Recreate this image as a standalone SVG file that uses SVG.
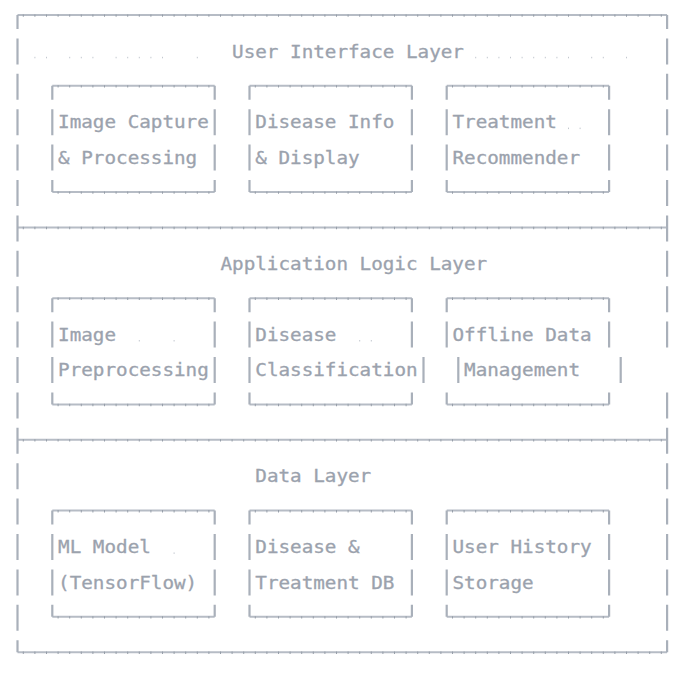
<svg xmlns="http://www.w3.org/2000/svg" width="678" height="674" viewBox="0 0 678 674">
<style>
.bg{fill:#ffffff}
.h{fill:none;stroke:#b6bcc5;stroke-width:2}
.v{fill:none;stroke:#a9b0ba;stroke-width:2.2}
.tk{fill:none;stroke:#969ea9;stroke-width:2.4;stroke-dasharray:1 10.6}
.tx{font-family:"DejaVu Sans Mono","Liberation Mono",monospace;font-size:17.5px;fill:#9ba2ad;stroke:#9ba2ad;stroke-width:0.3}
.dt{fill:#c3c8cf}
</style>
<rect class="bg" x="0" y="0" width="678" height="674"/>

<g id="layer-ui">
<path class="h" d="M17.5 15H667.1"/>
<path class="tk" d="M22.8 15.6H662"/>
<path class="v" d="M17.5 15V29M667.1 15V29M17.5 38.4V64.4M667.1 38.4V64.4M17.5 73.8V99.8M667.1 73.8V99.8M17.5 109.2V135.2M667.1 109.2V135.2M17.5 144.6V170.6M667.1 144.6V170.6M17.5 180V206M667.1 180V206"/>
<text class="tx" transform="translate(232.1 57.6) scale(1.101 1)">User Interface Layer</text>
</g>

<g id="ui-image-capture">
<path class="h" d="M52.3 85.8H214.7M52.3 192H214.7"/>
<path class="tk" d="M57.6 86.4H210M57.6 192.6H210"/>
<path class="v" d="M52.3 85.8V99.8M214.7 85.8V99.8M52.3 109.2V135.2M214.7 109.2V135.2M52.3 144.6V170.6M214.7 144.6V170.6M52.3 180V192M214.7 180V192"/>
<text class="tx" transform="translate(58.1 128.4) scale(1.101 1)">Image Capture</text>
<text class="tx" transform="translate(58.1 163.8) scale(1.101 1)">&amp; Processing</text>
</g>

<g id="ui-disease-info">
<path class="h" d="M249.5 85.8H411.9M249.5 192H411.9"/>
<path class="tk" d="M254.8 86.4H407M254.8 192.6H407"/>
<path class="v" d="M249.5 85.8V99.8M411.9 85.8V99.8M249.5 109.2V135.2M411.9 109.2V135.2M249.5 144.6V170.6M411.9 144.6V170.6M249.5 180V192M411.9 180V192"/>
<text class="tx" transform="translate(255.3 128.4) scale(1.101 1)">Disease Info</text>
<text class="tx" transform="translate(255.3 163.8) scale(1.101 1)">&amp; Display</text>
</g>

<g id="ui-treatment">
<path class="h" d="M446.7 85.8H609.1M446.7 192H609.1"/>
<path class="tk" d="M452 86.4H604M452 192.6H604"/>
<path class="v" d="M446.7 85.8V99.8M609.1 85.8V99.8M446.7 109.2V135.2M609.1 109.2V135.2M446.7 144.6V170.6M609.1 144.6V170.6M446.7 180V192M609.1 180V192"/>
<text class="tx" transform="translate(452.5 128.4) scale(1.101 1)">Treatment</text>
<text class="tx" transform="translate(452.5 163.8) scale(1.101 1)">Recommender</text>
</g>

<g id="layer-app">
<path class="h" d="M17.5 227.4H667.1"/>
<path class="tk" d="M22.8 228H662"/>
<path class="v" d="M17.5 215.4V241.4M667.1 215.4V241.4M17.5 250.8V276.8M667.1 250.8V276.8M17.5 286.2V312.2M667.1 286.2V312.2M17.5 321.6V347.6M667.1 321.6V347.6M17.5 357V383M17.5 392.4V418.4M667.1 392.4V418.4"/>
<text class="tx" transform="translate(220.5 270) scale(1.101 1)">Application Logic Layer</text>
</g>

<g id="app-preprocessing">
<path class="h" d="M52.3 298.2H214.7M52.3 404.4H214.7"/>
<path class="tk" d="M57.6 298.8H210M57.6 405H210"/>
<path class="v" d="M52.3 298.2V312.2M214.7 298.2V312.2M52.3 321.6V347.6M214.7 321.6V347.6M52.3 357V383M214.7 357V383M52.3 392.4V404.4M214.7 392.4V404.4"/>
<text class="tx" transform="translate(58.1 340.8) scale(1.101 1)">Image</text>
<text class="tx" transform="translate(58.1 376.2) scale(1.101 1)">Preprocessing</text>
</g>

<g id="app-classification">
<path class="h" d="M249.5 298.2H411.9M249.5 404.4H411.9"/>
<path class="tk" d="M254.8 298.8H407M254.8 405H407"/>
<path class="v" d="M249.5 298.2V312.2M411.9 298.2V312.2M249.5 321.6V347.6M411.9 321.6V347.6M249.5 357V383M423.5 357V383M249.5 392.4V404.4M411.9 392.4V404.4"/>
<text class="tx" transform="translate(255.3 340.8) scale(1.101 1)">Disease</text>
<text class="tx" transform="translate(255.3 376.2) scale(1.101 1)">Classification</text>
</g>

<g id="app-offline">
<path class="h" d="M446.7 298.2H609.1M446.7 404.4H609.1"/>
<path class="tk" d="M452 298.8H604M452 405H604"/>
<path class="v" d="M446.7 298.2V312.2M609.1 298.2V312.2M446.7 321.6V347.6M609.1 321.6V347.6M458.3 357V383M620.7 357V383M446.7 392.4V404.4M609.1 392.4V404.4"/>
<text class="tx" transform="translate(452.5 340.8) scale(1.101 1)">Offline Data</text>
<text class="tx" transform="translate(464.1 376.2) scale(1.101 1)">Management</text>
</g>

<g id="layer-data">
<path class="h" d="M17.5 439.8H667.1M17.5 652.2H667.1"/>
<path class="tk" d="M22.8 440.4H662M22.8 652.8H662"/>
<path class="v" d="M17.5 427.8V453.8M667.1 427.8V453.8M17.5 463.2V489.2M667.1 463.2V489.2M17.5 498.6V524.6M667.1 498.6V524.6M17.5 534V560M667.1 534V560M17.5 569.4V595.4M667.1 569.4V595.4M17.5 604.8V630.8M667.1 604.8V630.8M17.5 640.2V652.2M667.1 640.2V652.2"/>
<text class="tx" transform="translate(255.3 482.4) scale(1.101 1)">Data Layer</text>
</g>

<g id="data-ml-model">
<path class="h" d="M52.3 510.6H214.7M52.3 616.8H214.7"/>
<path class="tk" d="M57.6 511.2H210M57.6 617.4H210"/>
<path class="v" d="M52.3 510.6V524.6M214.7 510.6V524.6M52.3 534V560M214.7 534V560M52.3 569.4V595.4M214.7 569.4V595.4M52.3 604.8V616.8M214.7 604.8V616.8"/>
<text class="tx" transform="translate(58.1 553.2) scale(1.101 1)">ML Model</text>
<text class="tx" transform="translate(58.1 588.6) scale(1.101 1)">(TensorFlow)</text>
</g>

<g id="data-disease-db">
<path class="h" d="M249.5 510.6H411.9M249.5 616.8H411.9"/>
<path class="tk" d="M254.8 511.2H407M254.8 617.4H407"/>
<path class="v" d="M249.5 510.6V524.6M411.9 510.6V524.6M249.5 534V560M411.9 534V560M249.5 569.4V595.4M411.9 569.4V595.4M249.5 604.8V616.8M411.9 604.8V616.8"/>
<text class="tx" transform="translate(255.3 553.2) scale(1.101 1)">Disease &amp;</text>
<text class="tx" transform="translate(255.3 588.6) scale(1.101 1)">Treatment DB</text>
</g>

<g id="data-user-history">
<path class="h" d="M446.7 510.6H609.1M446.7 616.8H609.1"/>
<path class="tk" d="M452 511.2H604M452 617.4H604"/>
<path class="v" d="M446.7 510.6V524.6M609.1 510.6V524.6M446.7 534V560M609.1 534V560M446.7 569.4V595.4M609.1 569.4V595.4M446.7 604.8V616.8M609.1 604.8V616.8"/>
<text class="tx" transform="translate(452.5 553.2) scale(1.101 1)">User History</text>
<text class="tx" transform="translate(452.5 588.6) scale(1.101 1)">Storage</text>
</g>

<g id="connectors"></g>

<g id="space-dots" class="dt">
<rect x="34.4" y="56.8" width="1" height="1.5"/><rect x="46" y="56.8" width="1" height="1.5"/><rect x="69.2" y="56.8" width="1" height="1.5"/><rect x="80.8" y="56.8" width="1" height="1.5"/><rect x="92.4" y="56.8" width="1" height="1.5"/><rect x="115.6" y="56.8" width="1" height="1.5"/><rect x="127.2" y="56.8" width="1" height="1.5"/><rect x="138.8" y="56.8" width="1" height="1.5"/><rect x="150.4" y="56.8" width="1" height="1.5"/><rect x="162" y="56.8" width="1" height="1.5"/><rect x="196.8" y="56.8" width="1" height="1.5"/>
<rect x="475.2" y="56.8" width="1" height="1.5"/><rect x="486.8" y="56.8" width="1" height="1.5"/><rect x="498.4" y="56.8" width="1" height="1.5"/><rect x="510" y="56.8" width="1" height="1.5"/><rect x="521.6" y="56.8" width="1" height="1.5"/><rect x="533.2" y="56.8" width="1" height="1.5"/><rect x="544.8" y="56.8" width="1" height="1.5"/><rect x="556.4" y="56.8" width="1" height="1.5"/><rect x="568" y="56.8" width="1" height="1.5"/><rect x="591.2" y="56.8" width="1" height="1.5"/><rect x="602.8" y="56.8" width="1" height="1.5"/><rect x="626" y="56.8" width="1" height="1.5"/>
<rect x="568" y="127.6" width="1" height="1.5"/><rect x="579.6" y="127.6" width="1" height="1.5"/>
<rect x="138.8" y="340" width="1" height="1.5"/><rect x="173.6" y="340" width="1" height="1.5"/><rect x="359.2" y="340" width="1" height="1.5"/><rect x="370.8" y="340" width="1" height="1.5"/>
<rect x="173.6" y="552.4" width="1" height="1.5"/>
</g>
</svg>
